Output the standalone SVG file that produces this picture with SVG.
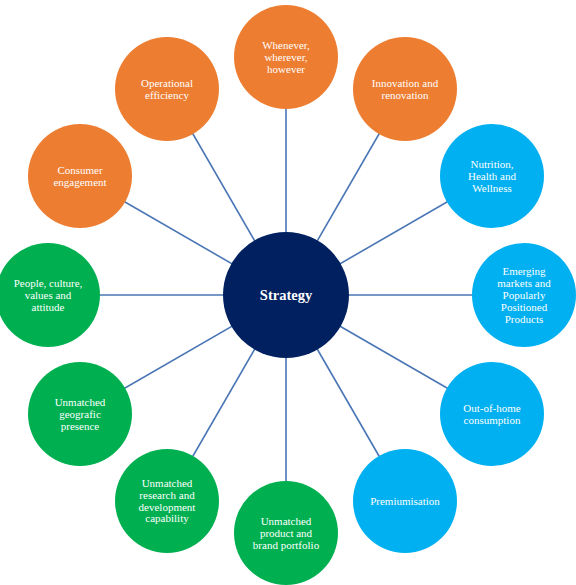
<svg xmlns="http://www.w3.org/2000/svg" width="576" height="585" viewBox="0 0 576 585">
<style>
.bg{fill:#ffffff}
.c{stroke:#4a76b5;stroke-width:1.6;fill:none}
.o{fill:#ED7D31}
.b{fill:#00B0F0}
.g{fill:#00B050}
.n{fill:#002060}
text{font-family:"Liberation Serif","Times New Roman",serif;font-size:11px;fill:#ffffff;text-anchor:middle}
.t{font-size:14.5px;font-weight:bold}
</style>
<rect class="bg" x="0" y="0" width="576" height="585"/>
<g id="connectors">
<line class="c" x1="286" y1="295" x2="286" y2="57"/>
<line class="c" x1="286" y1="295" x2="405" y2="89"/>
<line class="c" x1="286" y1="295" x2="492" y2="176"/>
<line class="c" x1="286" y1="295" x2="524" y2="295"/>
<line class="c" x1="286" y1="295" x2="492" y2="414"/>
<line class="c" x1="286" y1="295" x2="405" y2="501"/>
<line class="c" x1="286" y1="295" x2="286" y2="533"/>
<line class="c" x1="286" y1="295" x2="167" y2="501"/>
<line class="c" x1="286" y1="295" x2="80" y2="414"/>
<line class="c" x1="286" y1="295" x2="48" y2="295"/>
<line class="c" x1="286" y1="295" x2="80" y2="176"/>
<line class="c" x1="286" y1="295" x2="167" y2="89"/>
</g>
<g id="strategy">
<circle class="n" cx="286" cy="295" r="63"/>
<text class="t" x="286" y="300">Strategy</text>
</g>
<g id="whenever">
<circle class="o" cx="286" cy="57" r="52"/>
<text x="286" y="49">Whenever,</text>
<text x="286" y="61">wherever,</text>
<text x="286" y="72.6">however</text>
</g>
<g id="innovation">
<circle class="o" cx="405" cy="89" r="52"/>
<text x="405" y="87">Innovation and</text>
<text x="405" y="99">renovation</text>
</g>
<g id="nutrition">
<circle class="b" cx="492" cy="176" r="52"/>
<text x="492" y="168">Nutrition,</text>
<text x="492" y="180">Health and</text>
<text x="492" y="191.6">Wellness</text>
</g>
<g id="emerging">
<circle class="b" cx="524" cy="295" r="52"/>
<text x="524" y="275.4">Emerging</text>
<text x="524" y="287.2">markets and</text>
<text x="524" y="299">Popularly</text>
<text x="524" y="310.8">Positioned</text>
<text x="524" y="322.6">Products</text>
</g>
<g id="outofhome">
<circle class="b" cx="492" cy="414" r="52"/>
<text x="492" y="412">Out-of-home</text>
<text x="492" y="424">consumption</text>
</g>
<g id="premiumisation">
<circle class="b" cx="405" cy="501" r="52"/>
<text x="405" y="505">Premiumisation</text>
</g>
<g id="portfolio">
<circle class="g" cx="286" cy="533" r="52"/>
<text x="286" y="525">Unmatched</text>
<text x="286" y="537">product and</text>
<text x="286" y="548.6">brand portfolio</text>
</g>
<g id="research">
<circle class="g" cx="167" cy="501" r="52"/>
<text x="167" y="487">Unmatched</text>
<text x="167" y="498.8">research and</text>
<text x="167" y="510.6">development</text>
<text x="167" y="522.4">capability</text>
</g>
<g id="geografic">
<circle class="g" cx="80" cy="414" r="52"/>
<text x="80" y="406">Unmatched</text>
<text x="80" y="418">geografic</text>
<text x="80" y="429.6">presence</text>
</g>
<g id="people">
<circle class="g" cx="48" cy="295" r="52"/>
<text x="48" y="287">People, culture,</text>
<text x="48" y="299">values and</text>
<text x="48" y="310.6">attitude</text>
</g>
<g id="consumer">
<circle class="o" cx="80" cy="176" r="52"/>
<text x="80" y="174">Consumer</text>
<text x="80" y="186">engagement</text>
</g>
<g id="operational">
<circle class="o" cx="167" cy="89" r="52"/>
<text x="167" y="87">Operational</text>
<text x="167" y="99">efficiency</text>
</g>
</svg>
